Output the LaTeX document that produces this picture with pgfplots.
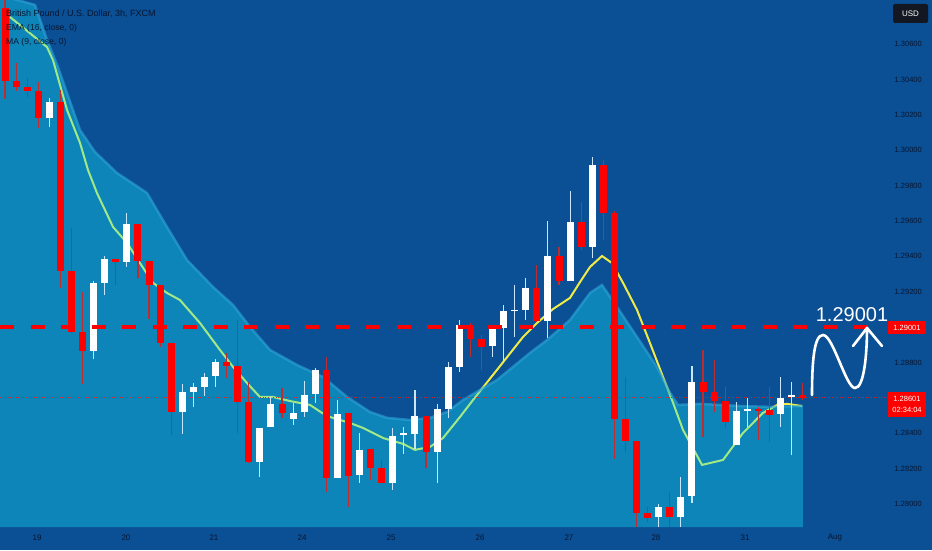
\documentclass[border=0pt]{standalone}
\usepackage{fontspec}
\setmainfont{Liberation Sans}
\usepackage{pgfplots}
\pgfplotsset{compat=1.18}
\usepackage{pgfplotstable}

\definecolor{bg}{RGB}{11,79,148}
\definecolor{fillc}{RGB}{20,230,250}
\definecolor{glow}{RGB}{45,165,215}
\definecolor{maline}{RGB}{240,235,70}
\definecolor{tvred}{RGB}{255,0,0}
\definecolor{wickred}{RGB}{190,45,45}
\definecolor{wickwhite}{RGB}{200,230,255}
\definecolor{navytxt}{RGB}{8,22,48}
\definecolor{usdbox}{RGB}{19,23,34}

% red (bearish) candles: index open high low close
\pgfplotstableread{
i o h l c
0 1.30804 1.30849 1.30290 1.30391
1 1.30391 1.30493 1.30335 1.30357
2 1.30357 1.30408 1.30301 1.30335
3 1.30335 1.30386 1.30126 1.30182
5 1.30273 1.30340 1.29221 1.29317
6 1.29317 1.29560 1.28967 1.28973
7 1.28973 1.29199 1.28679 1.28865
10 1.29385 1.29385 1.29238 1.29368
12 1.29583 1.29583 1.29278 1.29374
13 1.29374 1.29374 1.29046 1.29238
14 1.29238 1.29238 1.28888 1.28910
15 1.28910 1.28910 1.28390 1.28520
20 1.28803 1.28854 1.28713 1.28780
21 1.28780 1.29040 1.28402 1.28577
22 1.28577 1.28690 1.28232 1.28238
25 1.28566 1.28656 1.28487 1.28515
29 1.28758 1.28831 1.28068 1.28147
31 1.28515 1.28515 1.27983 1.28159
33 1.28311 1.28311 1.28136 1.28204
34 1.28204 1.28249 1.28119 1.28119
38 1.28498 1.28498 1.28204 1.28294
42 1.29012 1.29023 1.28831 1.28933
43 1.28933 1.28956 1.28758 1.28888
48 1.29221 1.29351 1.29029 1.29035
50 1.29402 1.29453 1.29238 1.29261
52 1.29594 1.29707 1.29436 1.29453
54 1.29916 1.29945 1.29493 1.29645
55 1.29645 1.29656 1.28255 1.28481
56 1.28481 1.28718 1.28294 1.28357
57 1.28357 1.28357 1.27870 1.27950
58 1.27950 1.27983 1.27899 1.27921
60 1.27983 1.28068 1.27870 1.27927
63 1.28690 1.28871 1.28379 1.28633
64 1.28633 1.28814 1.28520 1.28583
65 1.28583 1.28662 1.28430 1.28464
68 1.28537 1.28549 1.28362 1.28526
69 1.28532 1.28662 1.28351 1.28503
72 1.28616 1.28684 1.28588 1.28601
}\redc

% white (bullish) candles
\pgfplotstableread{
i o h l c
4 1.30182 1.30295 1.30131 1.30273
8 1.28865 1.29261 1.28820 1.29250
9 1.29250 1.29402 1.29182 1.29385
11 1.29368 1.29645 1.29340 1.29583
16 1.28520 1.28679 1.28396 1.28633
17 1.28633 1.28684 1.28549 1.28662
18 1.28662 1.28741 1.28611 1.28718
19 1.28724 1.28820 1.28662 1.28803
23 1.28238 1.28430 1.28153 1.28430
24 1.28436 1.28605 1.28436 1.28566
26 1.28481 1.28571 1.28447 1.28515
27 1.28520 1.28696 1.28492 1.28616
28 1.28622 1.28769 1.28571 1.28758
30 1.28147 1.28588 1.28147 1.28509
32 1.28164 1.28402 1.28119 1.28306
35 1.28119 1.28430 1.28080 1.28385
36 1.28390 1.28436 1.28283 1.28402
37 1.28396 1.28645 1.28311 1.28498
39 1.28294 1.28566 1.28119 1.28537
40 1.28537 1.28803 1.28487 1.28775
41 1.28775 1.29040 1.28747 1.29012
44 1.28893 1.29012 1.28831 1.29001
45 1.28995 1.29125 1.28803 1.29091
46 1.29091 1.29238 1.28944 1.29097
47 1.29097 1.29278 1.29040 1.29221
49 1.29035 1.29600 1.28939 1.29402
51 1.29261 1.29770 1.29261 1.29594
53 1.29453 1.29962 1.29391 1.29916
59 1.27927 1.28000 1.27870 1.27983
61 1.27927 1.28153 1.27870 1.28040
62 1.28046 1.28780 1.28006 1.28690
66 1.28334 1.28577 1.28334 1.28526
67 1.28526 1.28599 1.28436 1.28537
70 1.28509 1.28718 1.28436 1.28599
71 1.28605 1.28690 1.28277 1.28616
}\whitec

% upper edge of the EMA band area
\pgfplotstableread{
x y
-0.4513 1.30877
2.71 1.30821
3.79 1.30623
4.78 1.30470
6.77 1.30114
8.12 1.29990
10.11 1.29871
12.82 1.29758
14.62 1.29566
16.43 1.29379
18.77 1.29227
20.58 1.29125
22.11 1.29001
23.92 1.28871
26.35 1.28786
28.70 1.28718
30.87 1.28605
32.94 1.28520
34.48 1.28487
36.55 1.28475
38.36 1.28487
39.89 1.28520
41.34 1.28588
44.40 1.28701
47.38 1.28854
48.92 1.28927
50.99 1.29040
52.80 1.29193
53.88 1.29238
55.23 1.29114
57.04 1.28944
58.84 1.28775
60.02 1.28628
60.74 1.28560
62.73 1.28566
66.34 1.28554
69.04 1.28549
72.00 1.28554
}\edgetab

\pgfplotstableread{
x y
-0.4513 1.27870
-0.4513 1.30877
2.71 1.30821
3.79 1.30623
4.78 1.30470
6.77 1.30114
8.12 1.29990
10.11 1.29871
12.82 1.29758
14.62 1.29566
16.43 1.29379
18.77 1.29227
20.58 1.29125
22.11 1.29001
23.92 1.28871
26.35 1.28786
28.70 1.28718
30.87 1.28605
32.94 1.28520
34.48 1.28487
36.55 1.28475
38.36 1.28487
39.89 1.28520
41.34 1.28588
44.40 1.28701
47.38 1.28854
48.92 1.28927
50.99 1.29040
52.80 1.29193
53.88 1.29238
55.23 1.29114
57.04 1.28944
58.84 1.28775
60.02 1.28628
60.74 1.28560
62.73 1.28566
66.34 1.28554
69.04 1.28549
72.00 1.28554
72.00 1.27870
}\filltab

% MA (9) line
\pgfplotstableread{
x y
0.45 1.30753
3.79 1.30583
4.33 1.30510
5.60 1.30227
6.77 1.30041
7.49 1.29888
8.30 1.29758
9.75 1.29566
11.01 1.29476
12.18 1.29362
13.36 1.29250
14.62 1.29193
15.79 1.29153
17.60 1.29023
19.40 1.28871
20.58 1.28775
21.84 1.28684
23.01 1.28605
24.19 1.28605
25.72 1.28582
27.53 1.28560
28.61 1.28515
29.33 1.28492
31.14 1.28458
32.31 1.28430
34.12 1.28373
35.92 1.28340
37.00 1.28306
38.36 1.28323
39.53 1.28373
41.06 1.28492
42.24 1.28588
44.40 1.28758
46.75 1.28944
48.01 1.29023
49.46 1.29102
50.99 1.29165
51.90 1.29255
52.80 1.29340
53.88 1.29402
54.78 1.29362
55.78 1.29250
57.04 1.29097
58.21 1.28910
59.39 1.28718
60.20 1.28588
61.19 1.28419
62.91 1.28221
64.80 1.28249
66.61 1.28402
68.41 1.28515
69.68 1.28560
70.58 1.28566
71.93 1.28554
}\matab

\begin{document}
\begin{tikzpicture}
\begin{axis}[
  at={(0pt,0pt)}, anchor=south west,
  scale only axis, width=932pt, height=550pt,
  xmin=-0.4513, xmax=83.664, ymin=1.27740, ymax=1.30849,
  axis background/.style={fill=bg},
  axis line style={draw=none},
  tick style={draw=none},
  major tick length=0pt,
  clip=false,
  scaled y ticks=false,
  ytick={1.280,1.282,1.284,1.288,1.292,1.294,1.296,1.298,1.300,1.302,1.304,1.306},
  yticklabels={1.28000,1.28200,1.28400,1.28800,1.29200,1.29400,1.29600,1.29800,1.30000,1.30200,1.30400,1.30600},
  yticklabel pos=right,
  yticklabel style={anchor=east, xshift=-10pt, inner sep=0pt,
    font=\fontsize{7.5}{9}\selectfont, text=navytxt, text opacity=1},
  xtick={2.89,10.92,18.86,26.81,34.84,42.87,50.90,58.75,66.79,74.91},
  xticklabels={19,20,21,24,25,26,27,28,31,Aug},
  xticklabel style={anchor=center, yshift=12pt, inner sep=0pt,
    font=\fontsize{8}{9}\selectfont, text=navytxt, text opacity=1},
]
% MA line (under the translucent band)
\addplot[maline, line width=2pt] table[x=x,y=y]{\matab};
% band area
\addplot[draw=none, fill=fillc, fill opacity=0.36] table[x=x,y=y]{\filltab};
\addplot[glow, line width=2.5pt, draw opacity=0.6] table[x=x,y=y]{\edgetab};
% current price line
\addplot[wickred, line width=0.6pt, dotted] coordinates {(-0.4513,1.28601) (79.69,1.28601)};
% wicks
\addplot[wickred, line width=1.1pt, quiver={u=0, v=\thisrow{h}-\thisrow{l}}] table[x=i,y=l]{\redc};
\addplot[wickwhite, line width=1.1pt, quiver={u=0, v=\thisrow{h}-\thisrow{l}}] table[x=i,y=l]{\whitec};
% bodies
\addplot[tvred, line width=7pt, quiver={u=0, v=\thisrow{c}-\thisrow{o}}] table[x=i,y=o]{\redc};
\addplot[white, line width=7pt, quiver={u=0, v=\thisrow{c}-\thisrow{o}}] table[x=i,y=o]{\whitec};
% target level
\addplot[tvred, line width=3.5pt, dash pattern=on 14pt off 16.5pt] coordinates {(-0.4513,1.29001) (78.6,1.29001)};
\end{axis}

% legend texts
\node[anchor=west, inner sep=0pt, text=navytxt, font=\fontsize{9}{10}\selectfont] at (6pt,536pt) {British Pound / U.S. Dollar, 3h, FXCM};
\node[anchor=west, inner sep=0pt, text=navytxt, font=\fontsize{8.6}{10}\selectfont] at (6pt,522pt) {EMA (16, close, 0)};
\node[anchor=west, inner sep=0pt, text=navytxt, font=\fontsize{8.6}{10}\selectfont] at (6pt,508pt) {MA (9, close, 0)};

% USD box
\node[fill=usdbox, rounded corners=2pt, text=white, minimum width=35pt, minimum height=19pt, inner sep=0pt, font=\fontsize{8}{9}\selectfont] at (910.5pt,536.5pt) {USD};

% price labels
\node[fill=tvred, text=white, minimum width=38pt, minimum height=13pt, inner sep=0pt, font=\fontsize{7.5}{9}\selectfont] at (907pt,222.5pt) {1.29001};
\node[fill=tvred, text=white, minimum width=38pt, minimum height=25pt, inner sep=0pt, align=center, font=\fontsize{7.5}{10.5}\selectfont] at (907pt,145.5pt) {1.28601\\02:34:04};

% hand-drawn forecast
\node[text=white, inner sep=0pt, font=\fontsize{20}{24}\selectfont] at (852pt,235pt) {1.29001};
\draw[white, line width=2.6pt, line cap=round] (812pt,155pt) .. controls (812pt,188pt) and (814pt,215pt) .. (823pt,215pt) .. controls (833pt,215pt) and (846pt,162pt) .. (855pt,162pt) .. controls (864pt,162pt) and (867pt,195pt) .. (867pt,222pt);
\draw[white, line width=2.6pt, line cap=round, line join=round] (853pt,204pt) -- (867pt,222pt) -- (882pt,204pt);

\pgfresetboundingbox
\useasboundingbox (0pt,0pt) rectangle (932pt,550pt);
\end{tikzpicture}
\end{document}
